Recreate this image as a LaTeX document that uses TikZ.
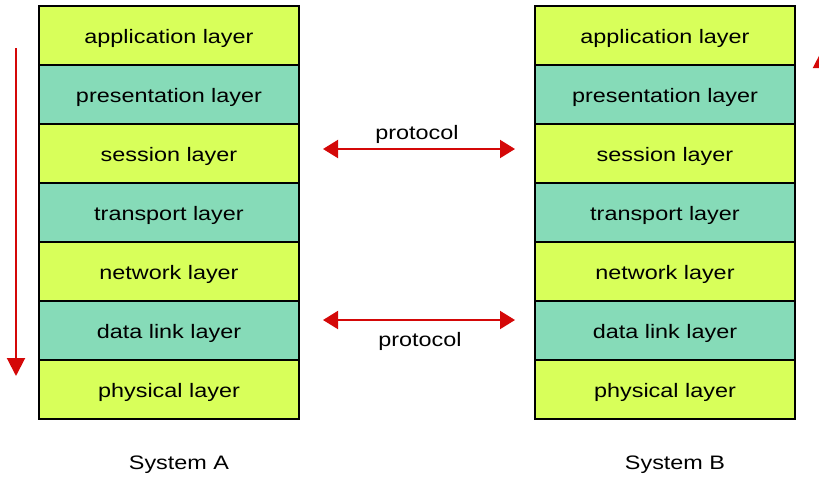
\documentclass[tikz,border=0pt]{standalone}
\usepackage{fontspec}
\setmainfont[FakeStretch=1.2]{Liberation Sans}
\usepackage{xcolor}
\usetikzlibrary{positioning,arrows.meta}
\definecolor{limelayer}{RGB}{216,255,90}
\definecolor{teallayer}{RGB}{134,219,184}
\definecolor{arrowred}{RGB}{212,8,8}
\tikzset{
    layer-box/.style = {draw=black, line width=2.5pt, rectangle, minimum width=260pt, minimum height=59pt, inner sep=0pt, outer sep=0pt, text height=18pt, text depth=3pt, font=\fontsize{19.5}{22}\selectfont},
    lime-layer/.style = {layer-box, fill=limelayer},
    teal-layer/.style = {layer-box, fill=teallayer},
    proto-arrow/.style = {draw=arrowred, line width=2pt, {Triangle[length=15pt,width=18pt]}-{Triangle[length=15pt,width=18pt]}},
    flow-arrow/.style = {draw=arrowred, line width=2pt, -{Triangle[length=18pt,width=18pt]}},
    caption/.style = {font=\fontsize{19.5}{22}\selectfont},
}

\begin{document}
\begin{tikzpicture}[x=1pt, y=-1pt]
\useasboundingbox (0,0) rectangle (819,480);
% System A
\node [lime-layer] (appA) at (169,35.5) {application layer};
\node [teal-layer, below=0pt of appA] (presA) {presentation layer};
\node [lime-layer, below=0pt of presA] (sessA) {session layer};
\node [teal-layer, below=0pt of sessA] (transA) {transport layer};
\node [lime-layer, below=0pt of transA] (netA) {network layer};
\node [teal-layer, below=0pt of netA] (linkA) {data link layer};
\node [lime-layer, below=0pt of linkA] (physA) {physical layer};
\node [caption] (sysA) at (179,465) {System A};
% System B
\node [lime-layer] (appB) at (665,35.5) {application layer};
\node [teal-layer, below=0pt of appB] (presB) {presentation layer};
\node [lime-layer, below=0pt of presB] (sessB) {session layer};
\node [teal-layer, below=0pt of sessB] (transB) {transport layer};
\node [lime-layer, below=0pt of transB] (netB) {network layer};
\node [teal-layer, below=0pt of netB] (linkB) {data link layer};
\node [lime-layer, below=0pt of linkB] (physB) {physical layer};
\node [caption] (sysB) at (675,465) {System B};
% protocols
\draw [proto-arrow, shorten <=24pt, shorten >=20pt] ([yshift=4.5pt]sessA.east) -- ([yshift=4.5pt]sessB.west)
    node [caption, midway, above=1pt] (protoUp) {protocol};
\draw [proto-arrow, shorten <=24pt, shorten >=20pt] ([yshift=10.5pt]linkA.east) -- ([yshift=10.5pt]linkB.west)
    node [caption, midway, below=8pt, xshift=3pt] (protoDown) {protocol};
% data flow
\coordinate (downTop) at (16,48);
\coordinate (downEnd) at (16,376);
\coordinate (upStart) at (822,420);
\coordinate (upEnd) at (822,50);
\draw [flow-arrow] (downTop) -- (downEnd);
\begin{scope}
\clip (0,0) rectangle (819,480);
\draw [flow-arrow] (upStart) -- (upEnd);
\end{scope}
\end{tikzpicture}
\end{document}
